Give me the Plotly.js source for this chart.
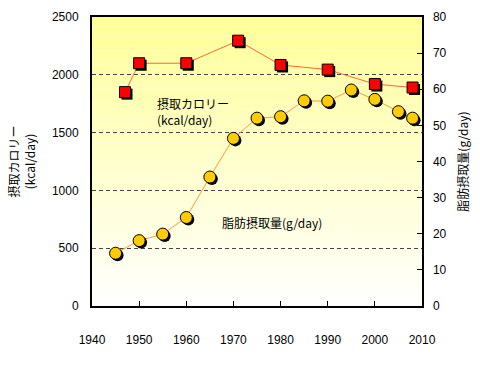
<!DOCTYPE html>
<html><head><meta charset="utf-8">
<script src="https://cdn.plot.ly/plotly-3.0.1.min.js"></script>
<style>html,body{margin:0;padding:0;background:#fff}</style>
</head><body>
<div id="chart" style="width:480px;height:365px"></div>
<script>
// Data
var calYears = [1947, 1950, 1960, 1971, 1980, 1990, 2000, 2008];
var calValues = [1850, 2100, 2100, 2295, 2085, 2045, 1920, 1890];
var fatYears = [1945, 1950, 1955, 1960, 1965, 1970, 1975, 1980, 1985, 1990, 1995, 2000, 2005, 2008];
var fatValues = [14.6, 18.1, 19.9, 24.5, 35.7, 46.4, 52.0, 52.4, 56.8, 56.7, 59.8, 57.2, 53.8, 52.0];
var xTicks = [1940, 1950, 1960, 1970, 1980, 1990, 2000, 2010];
var calTicks = [0, 500, 1000, 1500, 2000, 2500];
var fatTicks = [0, 10, 20, 30, 40, 50, 60, 70, 80];

var W = 480, H = 365, mL = 92, mR = 58, mT = 17, mB = 59;
var pw = W - mL - mR, ph = H - mT - mB;
var xR = [1940, 2010], calR = [0, 2500], fatR = [0, 80];
var sh = 2; // shadow offset px
var dx = sh * (xR[1] - xR[0]) / pw;
var dCal = sh * (calR[1] - calR[0]) / ph;
var dFat = sh * (fatR[1] - fatR[0]) / ph;

var numFont = {family: 'Liberation Sans, Arial, sans-serif', size: 12, color: '#000'};
var jpFont = {family: 'Noto Sans CJK JP, sans-serif', size: 12, color: '#000'};

var traces = [
  {x: calYears, y: calValues, xaxis: 'x', yaxis: 'y', mode: 'lines', line: {color: '#ff6633', width: 1}, hoverinfo: 'skip'},
  {x: fatYears, y: fatValues, xaxis: 'x', yaxis: 'y2', mode: 'lines', line: {color: '#ff9944', width: 1}, hoverinfo: 'skip'},
  {x: calYears, y: calValues, xaxis: 'x2', yaxis: 'y3', mode: 'markers', marker: {symbol: 'square', size: 11, color: '#000'}, hoverinfo: 'skip', cliponaxis: false},
  {x: fatYears, y: fatValues, xaxis: 'x2', yaxis: 'y4', mode: 'markers', marker: {symbol: 'circle', size: 12, color: '#000'}, hoverinfo: 'skip', cliponaxis: false},
  {x: calYears, y: calValues, xaxis: 'x3', yaxis: 'y5', mode: 'markers', marker: {symbol: 'square', size: 11, color: '#ff0000', line: {color: '#000', width: 1}}, cliponaxis: false},
  {x: fatYears, y: fatValues, xaxis: 'x3', yaxis: 'y6', mode: 'markers', marker: {symbol: 'circle', size: 12, color: '#ffcc00', line: {color: '#000', width: 1}}, cliponaxis: false}
];

// vertical gradient background (yellow at top to white at bottom)
var shapes = [];
var N = 60;
for (var i = 0; i < N; i++) {
  var t = (i + 0.5) / N; // 0 bottom -> 1 top
  var b = Math.round(255 - (255 - 150) * t);
  shapes.push({type: 'rect', xref: 'paper', yref: 'paper', x0: 0, x1: 1, y0: i / N, y1: (i + 1) / N,
    fillcolor: 'rgb(255,255,' + b + ')', line: {width: 0}, layer: 'below'});
}

var hidden = {visible: false, showgrid: false, zeroline: false, fixedrange: true};
var layout = {
  width: W, height: H,
  margin: {l: mL, r: mR, t: mT, b: mB},
  paper_bgcolor: '#fff', plot_bgcolor: '#fff',
  showlegend: false,
  shapes: shapes,
  xaxis: {range: xR, tickvals: xTicks, ticks: 'inside', ticklen: 5, tickcolor: '#000', tickwidth: 1,
    showline: true, linecolor: '#000', linewidth: 2, mirror: true, showgrid: false, zeroline: false,
    tickfont: numFont, ticklabelstandoff: 22},
  yaxis: {range: calR, tickvals: calTicks, ticks: '', showline: true, linecolor: '#000', linewidth: 2,
    showgrid: true, gridcolor: '#444', griddash: '4px,3px', gridwidth: 1, zeroline: false,
    tickfont: numFont, ticklabelstandoff: 9,
    title: {text: '摂取カロリー<br>(kcal/day)', font: jpFont, standoff: 14}},
  yaxis2: {range: fatR, tickvals: fatTicks, overlaying: 'y', side: 'right', ticks: 'inside', ticklen: 5,
    tickcolor: '#000', showline: true, linecolor: '#000', linewidth: 1.5, showgrid: false, zeroline: false,
    tickfont: numFont, ticklabelstandoff: 7,
    title: {text: '脂肪摂取量(g/day)', font: jpFont, standoff: 14}},
  xaxis2: Object.assign({overlaying: 'x', range: [xR[0] - dx, xR[1] - dx]}, hidden),
  yaxis3: Object.assign({overlaying: 'y', range: [calR[0] + dCal, calR[1] + dCal]}, hidden),
  yaxis4: Object.assign({overlaying: 'y', range: [fatR[0] + dFat, fatR[1] + dFat]}, hidden),
  xaxis3: Object.assign({overlaying: 'x', range: xR}, hidden),
  yaxis5: Object.assign({overlaying: 'y', range: calR}, hidden),
  yaxis6: Object.assign({overlaying: 'y', range: fatR}, hidden),
  annotations: [
    {xref: 'x', yref: 'y', x: 1953.3, y: 1680, xanchor: 'left', yanchor: 'middle', align: 'left', showarrow: false,
      text: '摂取カロリー<br>(kcal/day)', font: jpFont},
    {xref: 'x', yref: 'y', x: 1967.2, y: 725, xanchor: 'left', yanchor: 'middle', showarrow: false,
      text: '脂肪摂取量(g/day)', font: jpFont}
  ]
};

Plotly.newPlot('chart', traces, layout, {staticPlot: true, displayModeBar: false});
</script>
</body></html>
